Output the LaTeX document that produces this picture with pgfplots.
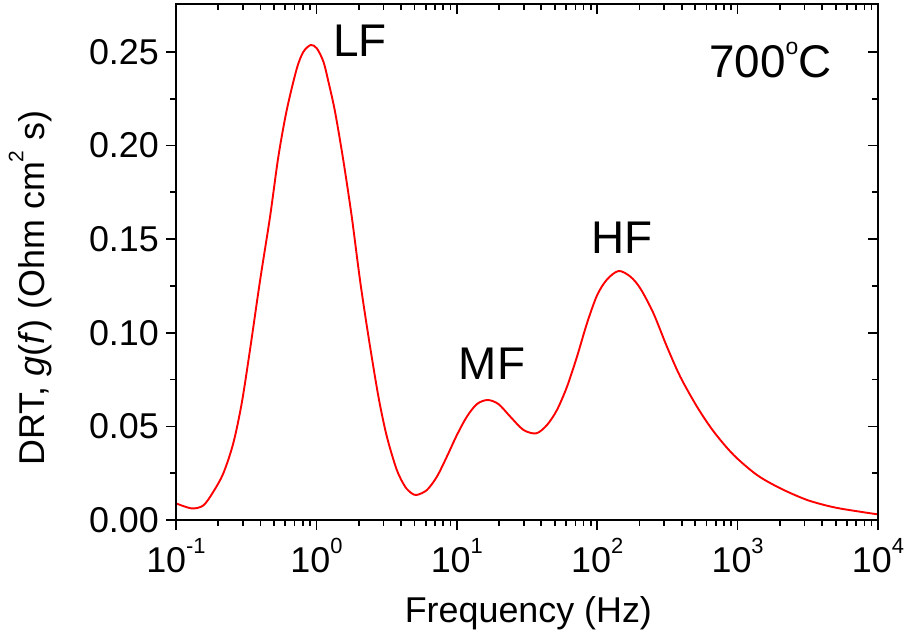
\documentclass[border=0pt]{standalone}
\usepackage{fontspec}
\setmainfont{Liberation Sans}
\usepackage{pgfplots}
\pgfplotsset{compat=1.18}
\newcommand{\tp}[1]{10\raisebox{19bp}{\fontsize{22}{22}\selectfont #1}}
\begin{document}
\begin{tikzpicture}
\begin{axis}[name=ax,
  xmode=log, scale only axis, width=702bp, height=516bp,
  xmin=0.1, xmax=10000, ymin=0, ymax=0.2756,
  xtick={0.1,1,10,100,1000,10000},
  minor xtick={0.2,0.3,0.4,0.5,0.6,0.7,0.8,0.9,2,3,4,5,6,7,8,9,20,30,40,50,60,70,80,90,200,300,400,500,600,700,800,900,2000,3000,4000,5000,6000,7000,8000,9000},
  ytick={0,0.05,0.10,0.15,0.20,0.25},
  minor y tick num=1,
  major tick length=10bp, minor tick length=6bp,
  tick style={black, line width=1.7bp},
  axis line style={line width=1.7bp},
  tick label style={font=\fontsize{36}{36}\selectfont},
  tick align=outside, xtick pos=left, ytick pos=left,
  /pgf/number format/assume math mode=true,
  y tick label style={/pgf/number format/fixed, /pgf/number format/fixed zerofill, /pgf/number format/precision=2, inner sep=0pt, xshift=-7bp},
  x tick label style={inner sep=0pt, yshift=-8bp},
  xticklabels={\tp{-1},\tp{0},\tp{1},\tp{2},\tp{3},\tp{4}},
  xlabel={Frequency (Hz)},
  ylabel={DRT, \textit{g}(\textit{f}) (Ohm cm\raisebox{21bp}{\fontsize{21}{21}\selectfont 2} s)},
  label style={font=\fontsize{36}{36}\selectfont},
  xlabel style={anchor=base, at={(axis description cs:0.502,-0.1996)}},
  ylabel style={anchor=base, at={(axis description cs:-0.1876,0.4496)}},
]
\addplot[red, line width=1.9bp, smooth] table {
x y
0.1 0.0089
0.1294 0.0062
0.1567 0.0078
0.1845 0.0151
0.2173 0.0249
0.2559 0.0410
0.2938 0.0623
0.3365 0.0908
0.3972 0.128
0.4677 0.162
0.5358 0.194
0.6152 0.219
0.7244 0.241
0.8072 0.250
0.9120 0.2537
1.007 0.2519
1.122 0.2448
1.219 0.234
1.358 0.218
1.556 0.192
1.786 0.162
2.046 0.128
2.350 0.0979
2.767 0.0658
3.177 0.0445
3.741 0.0267
4.285 0.0178
4.786 0.0142
5.200 0.0134
6.124 0.0160
7.211 0.0231
8.492 0.0338
10.02 0.0454
11.80 0.0552
13.90 0.0619
16.56 0.0641
19.82 0.0619
24.04 0.0552
29.85 0.0481
36.81 0.0463
43.85 0.0507
51.64 0.0587
60.95 0.0712
71.78 0.0872
84.53 0.105
99.77 0.120
117.5 0.1285
142.2 0.133
172.2 0.130
202.8 0.1237
251.2 0.1105
314.1 0.0925
390.8 0.0765
514.0 0.0605
676.1 0.0472
937.6 0.0347
1377 0.0240
2018 0.0169
3126 0.0107
4842 0.0068
7499 0.0044
10000 0.0030
};
\node[anchor=base, font=\fontsize{46}{46}\selectfont] at (axis cs:2.049,0.2473) {LF};
\node[anchor=base, font=\fontsize{46}{46}\selectfont] at (axis cs:17.79,0.0752) {MF};
\node[anchor=base, font=\fontsize{46}{46}\selectfont] at (axis cs:149.7,0.1425) {HF};
\node[anchor=base, font=\fontsize{46}{46}\selectfont] at (axis cs:1713,0.2361) {700\raisebox{23bp}{\fontsize{23}{23}\selectfont o}C};
\end{axis}
\begin{axis}[
  xmode=log, scale only axis, width=702bp, height=516bp,
  xmin=0.1, xmax=10000, ymin=0, ymax=0.2756,
  xtick={0.1,1,10,100,1000,10000},
  minor xtick={0.2,0.3,0.4,0.5,0.6,0.7,0.8,0.9,2,3,4,5,6,7,8,9,20,30,40,50,60,70,80,90,200,300,400,500,600,700,800,900,2000,3000,4000,5000,6000,7000,8000,9000},
  ytick={0,0.05,0.10,0.15,0.20,0.25},
  minor y tick num=1,
  major tick length=10bp, minor tick length=6bp,
  tick style={black, line width=1.7bp},
  axis line style={line width=1.7bp},
  tick align=inside, xtick pos=right, ytick pos=right,
  xticklabels={}, yticklabels={},
]
\end{axis}
\pgfresetboundingbox
\path ([shift={(-176bp,-120bp)}]ax.south west) rectangle ([shift={(731bp,520bp)}]ax.south west);
\end{tikzpicture}
\end{document}
